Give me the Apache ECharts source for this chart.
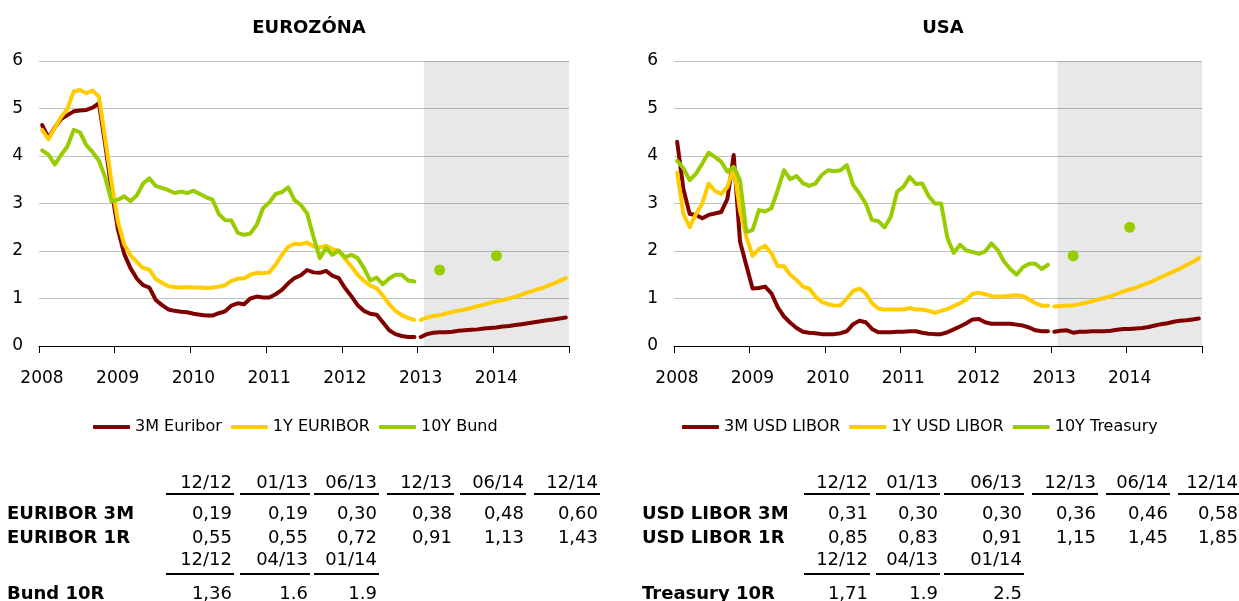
<!DOCTYPE html>
<html>
<head>
<meta charset="utf-8">
<title>Úrokové sadzby – Eurozóna a USA</title>
<script src="https://cdn.jsdelivr.net/npm/echarts@6/dist/echarts.min.js"></script>
<style>
  body { margin: 0; background: #fff; font-family: 'DejaVu Sans', sans-serif; }
  #chart { position: absolute; left: 0; top: 0; width: 1239px; height: 601px; }
  .cell { position: absolute; font-size: 18px; line-height: 24px; height: 24px; color: #000; white-space: nowrap; }
  .lbl { font-weight: bold; }
  .rule { position: absolute; height: 2px; background: #000; }
</style>
</head>
<body>
<div id="chart"></div>
<div id="tables"></div>
<script>
// Roky na osi x (mesačné údaje 01/2008 - 12/2014)
const years = ['2008', '2009', '2010', '2011', '2012', '2013', '2014'];

// Eurozóna - história 01/2008 - 12/2012
const euribor3m = [
  4.65, 4.38, 4.60, 4.78, 4.86, 4.94, 4.96, 4.97, 5.02, 5.11, 4.24, 3.29,
  2.46, 1.94, 1.64, 1.42, 1.28, 1.23, 0.97, 0.86, 0.77, 0.74, 0.72, 0.71,
  0.68, 0.66, 0.64, 0.64, 0.69, 0.73, 0.85, 0.90, 0.88, 1.00, 1.04, 1.02,
  1.02, 1.09, 1.18, 1.32, 1.43, 1.49, 1.60, 1.55, 1.54, 1.58, 1.48, 1.43,
  1.22, 1.05, 0.86, 0.74, 0.68, 0.66, 0.50, 0.33, 0.25, 0.21, 0.19, 0.19
];
const euribor1y = [
  4.55, 4.35, 4.59, 4.82, 4.99, 5.36, 5.39, 5.32, 5.38, 5.25, 4.35, 3.45,
  2.62, 2.14, 1.91, 1.77, 1.64, 1.61, 1.41, 1.33, 1.26, 1.24, 1.23, 1.24,
  1.23, 1.23, 1.22, 1.23, 1.25, 1.28, 1.37, 1.42, 1.42, 1.50, 1.54, 1.53,
  1.55, 1.71, 1.92, 2.09, 2.15, 2.14, 2.18, 2.10, 2.07, 2.11, 2.04, 2.00,
  1.84, 1.68, 1.50, 1.37, 1.27, 1.22, 1.06, 0.88, 0.74, 0.65, 0.59, 0.55
];
const bund10y = [
  4.12, 4.03, 3.82, 4.02, 4.20, 4.55, 4.50, 4.23, 4.08, 3.90, 3.55, 3.04,
  3.08, 3.15, 3.05, 3.17, 3.42, 3.53, 3.37, 3.33, 3.28, 3.22, 3.25, 3.22,
  3.27, 3.20, 3.13, 3.08, 2.78, 2.65, 2.64, 2.38, 2.34, 2.37, 2.55, 2.90,
  3.02, 3.20, 3.24, 3.34, 3.07, 2.97, 2.79, 2.30, 1.85, 2.06, 1.92, 2.01,
  1.87, 1.92, 1.85, 1.64, 1.38, 1.44, 1.30, 1.42, 1.50, 1.50, 1.38, 1.36
];
// Eurozóna - prognóza 01/2013 - 12/2014
const euribor3mForecast = [
  0.19, 0.25, 0.28, 0.29, 0.29, 0.30, 0.32, 0.33, 0.34, 0.35, 0.37, 0.38,
  0.39, 0.41, 0.42, 0.44, 0.46, 0.48, 0.50, 0.52, 0.54, 0.56, 0.58, 0.60
];
const euribor1yForecast = [
  0.55, 0.60, 0.63, 0.65, 0.68, 0.72, 0.74, 0.77, 0.80, 0.84, 0.87, 0.91,
  0.94, 0.97, 1.00, 1.04, 1.08, 1.13, 1.17, 1.21, 1.26, 1.31, 1.37, 1.43
];
const bundForecastDates = ['04/13', '01/14'];
const bundForecast = [1.6, 1.9];

// USA - história 01/2008 - 12/2012
const libor3m = [
  4.30, 3.30, 2.78, 2.76, 2.69, 2.76, 2.79, 2.82, 3.10, 4.02, 2.20, 1.70,
  1.21, 1.22, 1.25, 1.11, 0.82, 0.62, 0.49, 0.38, 0.30, 0.28, 0.27, 0.25,
  0.25, 0.25, 0.27, 0.31, 0.46, 0.53, 0.50, 0.36, 0.29, 0.29, 0.29, 0.30,
  0.30, 0.31, 0.31, 0.28, 0.26, 0.25, 0.25, 0.29, 0.35, 0.41, 0.48, 0.56,
  0.57, 0.50, 0.47, 0.47, 0.47, 0.47, 0.45, 0.43, 0.39, 0.33, 0.31, 0.31
];
const libor1y = [
  3.65, 2.78, 2.50, 2.78, 3.00, 3.42, 3.27, 3.20, 3.35, 3.76, 2.85, 2.30,
  1.90, 2.04, 2.11, 1.95, 1.68, 1.68, 1.50, 1.39, 1.25, 1.21, 1.04, 0.93,
  0.88, 0.85, 0.86, 1.00, 1.16, 1.21, 1.11, 0.90, 0.79, 0.77, 0.77, 0.77,
  0.77, 0.80, 0.77, 0.77, 0.74, 0.70, 0.74, 0.78, 0.84, 0.90, 0.98, 1.10,
  1.12, 1.09, 1.05, 1.04, 1.04, 1.06, 1.07, 1.05, 0.98, 0.90, 0.85, 0.85
];
const treasury10y = [
  3.90, 3.74, 3.49, 3.63, 3.84, 4.07, 3.98, 3.88, 3.67, 3.77, 3.49, 2.40,
  2.44, 2.86, 2.83, 2.90, 3.28, 3.70, 3.51, 3.58, 3.43, 3.37, 3.42, 3.60,
  3.70, 3.68, 3.70, 3.81, 3.39, 3.21, 3.00, 2.65, 2.63, 2.50, 2.72, 3.25,
  3.35, 3.56, 3.41, 3.42, 3.16, 3.00, 3.00, 2.27, 1.96, 2.13, 2.01, 1.98,
  1.94, 1.99, 2.16, 2.02, 1.78, 1.62, 1.50, 1.66, 1.73, 1.73, 1.62, 1.71
];
// USA - prognóza 01/2013 - 12/2014
const libor3mForecast = [
  0.30, 0.32, 0.33, 0.28, 0.30, 0.30, 0.31, 0.31, 0.31, 0.32, 0.34, 0.36,
  0.36, 0.37, 0.38, 0.40, 0.43, 0.46, 0.48, 0.51, 0.53, 0.54, 0.56, 0.58
];
const libor1yForecast = [
  0.83, 0.84, 0.85, 0.86, 0.88, 0.91, 0.94, 0.98, 1.01, 1.05, 1.10, 1.15,
  1.19, 1.23, 1.28, 1.33, 1.39, 1.45, 1.51, 1.57, 1.63, 1.70, 1.77, 1.85
];
const treasuryForecastDates = ['04/13', '01/14'];
const treasuryForecast = [1.9, 2.5];

// Tabuľky pod grafmi
const tableDates = ['12/12', '01/13', '06/13', '12/13', '06/14', '12/14'];
const euribor3mTable = ['0,19', '0,19', '0,30', '0,38', '0,48', '0,60'];
const euribor1rTable = ['0,55', '0,55', '0,72', '0,91', '1,13', '1,43'];
const bondDates = ['12/12', '04/13', '01/14'];
const bund10rTable = ['1,36', '1.6', '1.9'];
const libor3mTable = ['0,31', '0,30', '0,30', '0,36', '0,46', '0,58'];
const libor1rTable = ['0,85', '0,83', '0,91', '1,15', '1,45', '1,85'];
const treasury10rTable = ['1,71', '1.9', '2.5'];

const RED = '#800000';
const YELLOW = '#ffcc00';
const GREEN = '#99cc00';
const FONT = 'DejaVu Sans';

// mesiac 'MM/YY' -> poradie mesiaca od 01/2008
const monthIdx = s => (parseInt(s.slice(3), 10) - 8) * 12 + parseInt(s.slice(0, 2), 10) - 1;
const pts = (vals, start) => vals.map((v, k) => [start + k + 0.5, v]);
const FORECAST_START = 60;

function line(name, vals, start, color, gi) {
  return {
    name: name, type: 'line', xAxisIndex: gi, yAxisIndex: gi,
    data: pts(vals, start), showSymbol: false, symbol: 'none',
    lineStyle: { color: color, width: 4, cap: 'round', join: 'round' },
    itemStyle: { color: color }, emphasis: { disabled: true }, z: 3
  };
}
function dots(name, dates, vals, gi) {
  return {
    name: name, type: 'scatter', xAxisIndex: gi, yAxisIndex: gi,
    data: dates.map((d, k) => [monthIdx(d) + 0.5, vals[k]]),
    symbolSize: 11, itemStyle: { color: GREEN, opacity: 1 }, z: 4
  };
}
function shade(gi) {
  return {
    name: 'prognóza' + gi, type: 'line', xAxisIndex: gi, yAxisIndex: gi, data: [], z: 1,
    markArea: { silent: true, itemStyle: { color: 'rgba(0,0,0,0.09)' }, data: [[{ xAxis: 61 }, { xAxis: 84 }]] }
  };
}

const xAxisBase = {
  type: 'value', min: 0, max: 84, interval: 12,
  axisLine: { lineStyle: { color: '#000', width: 1 } },
  axisTick: { length: 7, lineStyle: { color: '#000' } },
  axisLabel: { formatter: v => years[v / 12] || '', color: '#000', fontSize: 17, fontFamily: FONT, margin: 24, padding: [0, 0, 0, 6] },
  splitLine: { show: false }
};
const yAxisBase = {
  type: 'value', min: 0, max: 6, interval: 1,
  axisLine: { show: false }, axisTick: { show: false },
  axisLabel: { color: '#000', fontSize: 17, fontFamily: FONT, margin: 16 },
  splitLine: { lineStyle: { color: '#c0c0c0', width: 1 } }
};
const legendBase = {
  top: 414, icon: 'roundRect', itemWidth: 37, itemHeight: 4, itemGap: 9, selectedMode: false,
  textStyle: { color: '#000', fontSize: 16, fontFamily: FONT }
};

const chart = echarts.init(document.getElementById('chart'));
chart.setOption({
  animation: false,
  textStyle: { fontFamily: FONT },
  title: [
    { text: 'EUROZÓNA', left: 304, top: 14, textAlign: 'center', textStyle: { fontSize: 18, fontWeight: 'bold', color: '#000', fontFamily: FONT } },
    { text: 'USA', left: 938, top: 14, textAlign: 'center', textStyle: { fontSize: 18, fontWeight: 'bold', color: '#000', fontFamily: FONT } }
  ],
  legend: [
    Object.assign({ left: 88, data: ['3M Euribor', '1Y EURIBOR', '10Y Bund'] }, legendBase),
    Object.assign({ left: 677, data: ['3M USD LIBOR', '1Y USD LIBOR', '10Y Treasury'] }, legendBase)
  ],
  grid: [
    { left: 39, top: 61, width: 530, height: 285 },
    { left: 674, top: 61, width: 528, height: 285 }
  ],
  xAxis: [Object.assign({ gridIndex: 0 }, xAxisBase), Object.assign({ gridIndex: 1 }, xAxisBase)],
  yAxis: [Object.assign({ gridIndex: 0 }, yAxisBase), Object.assign({ gridIndex: 1 }, yAxisBase)],
  series: [
    shade(0),
    line('3M Euribor', euribor3m, 0, RED, 0),
    line('1Y EURIBOR', euribor1y, 0, YELLOW, 0),
    line('10Y Bund', bund10y, 0, GREEN, 0),
    line('3M Euribor prognóza', euribor3mForecast, FORECAST_START, RED, 0),
    line('1Y EURIBOR prognóza', euribor1yForecast, FORECAST_START, YELLOW, 0),
    dots('10Y Bund prognóza', bundForecastDates, bundForecast, 0),
    shade(1),
    line('3M USD LIBOR', libor3m, 0, RED, 1),
    line('1Y USD LIBOR', libor1y, 0, YELLOW, 1),
    line('10Y Treasury', treasury10y, 0, GREEN, 1),
    line('3M USD LIBOR prognóza', libor3mForecast, FORECAST_START, RED, 1),
    line('1Y USD LIBOR prognóza', libor1yForecast, FORECAST_START, YELLOW, 1),
    dots('10Y Treasury prognóza', treasuryForecastDates, treasuryForecast, 1)
  ]
});

// Tabuľky
const tablesEl = document.getElementById('tables');
function cell(text, x, right, cy, cls) {
  const d = document.createElement('div');
  d.className = 'cell' + (cls ? ' ' + cls : '');
  d.textContent = text;
  d.style.top = (cy - 12) + 'px';
  if (right) {
    d.style.left = (x - 90) + 'px';
    d.style.width = '90px';
    d.style.textAlign = 'right';
  } else {
    d.style.left = x + 'px';
  }
  tablesEl.appendChild(d);
}
function rule(x1, x2, y) {
  const d = document.createElement('div');
  d.className = 'rule';
  d.style.left = x1 + 'px';
  d.style.width = (x2 - x1) + 'px';
  d.style.top = y + 'px';
  tablesEl.appendChild(d);
}
function drawTable(labelX, cols, labels, rowA, rowB, rowC) {
  tableDates.forEach((t, k) => { cell(t, cols[k][1] - 2, true, 482); rule(cols[k][0], cols[k][1], 493); });
  cell(labels[0], labelX, false, 513, 'lbl');
  rowA.forEach((t, k) => cell(t, cols[k][1] - 2, true, 513));
  cell(labels[1], labelX, false, 537, 'lbl');
  rowB.forEach((t, k) => cell(t, cols[k][1] - 2, true, 537));
  bondDates.forEach((t, k) => { cell(t, cols[k][1] - 2, true, 559); rule(cols[k][0], cols[k][1], 573); });
  cell(labels[2], labelX, false, 593, 'lbl');
  rowC.forEach((t, k) => cell(t, cols[k][1] - 2, true, 593));
}
drawTable(7, [[166, 234], [240, 310], [314, 379], [387, 454], [460, 526], [534, 600]],
  ['EURIBOR 3M', 'EURIBOR 1R', 'Bund 10R'], euribor3mTable, euribor1rTable, bund10rTable);
drawTable(642, [[804, 870], [876, 940], [944, 1024], [1032, 1098], [1106, 1170], [1178, 1240]],
  ['USD LIBOR 3M', 'USD LIBOR 1R', 'Treasury 10R'], libor3mTable, libor1rTable, treasury10rTable);
</script>
</body>
</html>
